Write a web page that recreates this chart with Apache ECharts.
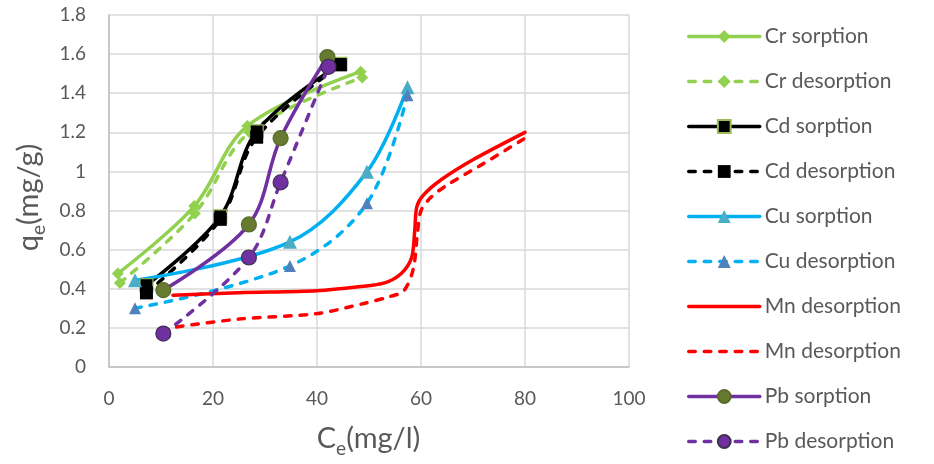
<!DOCTYPE html>
<html><head><meta charset="utf-8">
<script src="https://cdn.jsdelivr.net/npm/echarts@6/dist/echarts.min.js"></script>
<style>html,body{margin:0;padding:0;background:#fff}#c{width:934px;height:464px}</style>
</head><body><div id="c"></div>
<script>
// Ce (mg/l), qe (mg/g) pairs
const crSorption   = [[1.7,0.478],[16.4,0.823],[26.6,1.232],[48.4,1.51]];
const crDesorption = [[2.1,0.43],[16.5,0.785],[27.0,1.20],[48.7,1.48]];
const cdSorption   = [[7.2,0.418],[21.4,0.77],[28.4,1.205],[44.5,1.55]];
const cdDesorption = [[7.2,0.379],[21.4,0.755],[28.4,1.175],[44.5,1.545]];
const cuSorption   = [[5.0,0.444],[34.8,0.64],[49.6,0.998],[57.4,1.43]];
const cuDesorption = [[5.0,0.30],[34.8,0.517],[49.6,0.837],[57.4,1.39]];
const mnSolid      = [[12.3,0.367],[25,0.38],[40,0.39],[48,0.41],[53,0.43],[56.2,0.478],[58.2,0.56],[58.8,0.7],[59.2,0.82],[60.5,0.88],[64,0.96],[70,1.06],[80,1.2]];
const mnDashed     = [[13,0.205],[25,0.245],[40,0.273],[49,0.325],[54,0.36],[56.7,0.39],[58.5,0.5],[59.3,0.68],[60,0.8],[62,0.87],[65,0.93],[72,1.04],[80,1.17]];
const pbSorption   = [[10.45,0.393],[26.9,0.729],[33.0,1.17],[42.0,1.585]];
const pbDesorption = [[10.45,0.171],[26.9,0.56],[33.0,0.944],[42.2,1.535]];
const seriesNames = ['Cr sorption','Cr desorption','Cd sorption','Cd desorption','Cu sorption','Cu desorption','Mn desorption','Mn desorption ','Pb sorption','Pb desorption'];
const xTicks = [0,20,40,60,80,100];
const yTicks = [0,0.2,0.4,0.6,0.8,1,1.2,1.4,1.6,1.8];
const xTitle = '{a|C}{b|e}{a|(mg/l)}';
const yTitle = '{a|q}{b|e}{a|(mg/g)}';

const FONT = 'Lato, "Open Sans", sans-serif';
const DASH = [6.5, 9];
function mk(name, data, color, dashed, symbol, size, fill, border, smooth) {
  return {
    name, type: 'line', data, smooth: smooth, symbol: symbol || 'circle', symbolSize: size || 0,
    showSymbol: !!symbol,
    lineStyle: { color, width: 3.5, type: dashed ? DASH : 'solid', cap: 'round' },
    itemStyle: symbol ? { color: fill, borderColor: border || fill, borderWidth: border ? 1.2 : 0 }
                      : { color: 'rgba(0,0,0,0)', borderWidth: 0 },
    emphasis: { disabled: true }
  };
}
const series = [
  mk(seriesNames[0], crSorption, '#92D050', false, 'diamond', 12, '#92D050', null, 0.35),
  mk(seriesNames[1], crDesorption, '#92D050', true, 'diamond', 12, '#92D050', null, 0.35),
  mk(seriesNames[2], cdSorption, '#000000', false, 'rect', 13, '#000000', '#9BBB59', 0.35),
  mk(seriesNames[3], cdDesorption, '#000000', true, 'rect', 13, '#000000', null, 0.35),
  mk(seriesNames[4], cuSorption, '#00B0F0', false, 'triangle', 14, '#4BACC6', null, 0.35),
  mk(seriesNames[5], cuDesorption, '#00B0F0', true, 'triangle', 12, '#4F81BD', null, 0.35),
  mk(seriesNames[6], mnSolid, '#FF0000', false, null, 0, null, null, 0.3),
  mk(seriesNames[7], mnDashed, '#FF0000', true, null, 0, null, null, 0.3),
  mk(seriesNames[8], pbSorption, '#7030A0', false, 'circle', 15, '#667A30', '#5A6B2A', 0.35),
  mk(seriesNames[9], pbDesorption, '#7030A0', true, 'circle', 15, '#7030A0', '#403152', 0.35)
];

const titleRich = {
  a: { fontFamily: FONT, fontSize: 29, fill: '#595959', lineHeight: 40 },
  b: { fontFamily: FONT, fontSize: 19, fill: '#595959', lineHeight: 19, padding: [21, 0, 0, 0] }
};

const chart = echarts.init(document.getElementById('c'), null, { renderer: 'canvas' });
chart.setOption({
  animation: false,
  backgroundColor: '#ffffff',
  textStyle: { fontFamily: FONT },
  grid: { left: 109, right: 305, top: 15, bottom: 97, containLabel: false },
  legend: {
    orient: 'vertical', left: 687, top: 24, padding: 0,
    itemWidth: 71, itemHeight: 16, itemGap: 20,
    data: seriesNames,
    formatter: n => n.trim(),
    lineStyle: { width: 3.5 },
    textStyle: { fontFamily: FONT, fontSize: 21, color: '#595959', lineHeight: 25 },
    selectedMode: false
  },
  graphic: [
    { type: 'text', x: 368.5, y: 438.5, silent: true,
      style: { text: xTitle, rich: titleRich, align: 'center', verticalAlign: 'middle' } },
    { type: 'text', x: 28.5, y: 197.5, rotation: Math.PI / 2, silent: true,
      style: { text: yTitle, rich: titleRich, align: 'center', verticalAlign: 'middle' } }
  ],
  xAxis: {
    type: 'value', min: 0, max: 100, interval: 20,
    axisLine: { show: true, lineStyle: { color: '#BFBFBF', width: 1.5 } },
    axisTick: { show: false },
    axisLabel: { fontFamily: FONT, fontSize: 19, color: '#595959', margin: 22 },
    splitLine: { show: true, lineStyle: { color: '#D9D9D9', width: 1.5 } }
  },
  yAxis: {
    type: 'value', min: 0, max: 1.8, interval: 0.2,
    axisLine: { show: true, lineStyle: { color: '#BFBFBF', width: 1.5 } },
    axisTick: { show: false },
    axisLabel: { fontFamily: FONT, fontSize: 19, color: '#595959', margin: 23, formatter: v => String(Math.round(v*10)/10) },
    splitLine: { show: true, lineStyle: { color: '#D9D9D9', width: 1.5 } }
  },
  series
});
</script></body></html>
